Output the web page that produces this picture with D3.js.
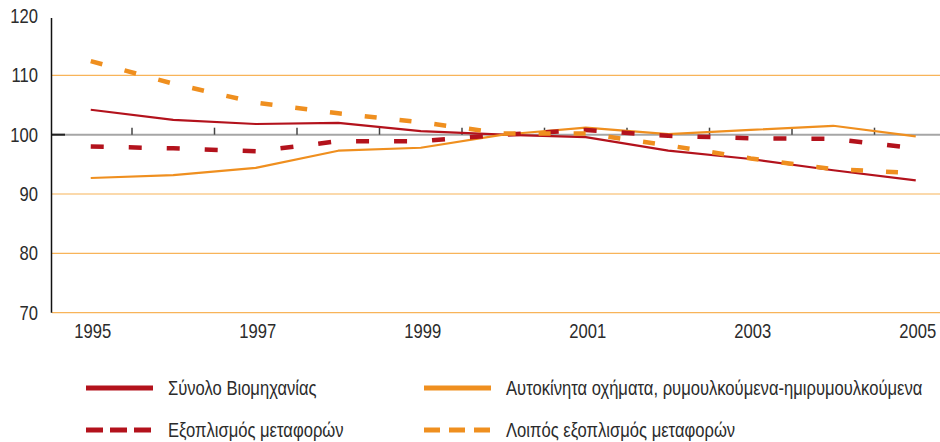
<!DOCTYPE html>
<html>
<head>
<meta charset="utf-8">
<script src="https://cdn.jsdelivr.net/npm/d3@7"></script>
<style>
  body { margin: 0; background: #fff; }
  svg text { font-family: "Liberation Sans", Arial, sans-serif; fill: #2b2b2b; }
</style>
</head>
<body>
<svg id="chart" width="940" height="442"></svg>
<script>
// values (index, 2000 = 100)
const years = [1995, 1996, 1997, 1998, 1999, 2000, 2001, 2002, 2003, 2004, 2005];
const totalIndustry = [104.2, 102.5, 101.8, 102.0, 100.6, 100.0, 99.6, 97.3, 95.9, 94.0, 92.3];
const motorVehicles = [92.7, 93.2, 94.4, 97.3, 97.8, 100.0, 101.2, 100.1, 100.8, 101.5, 99.7];
const transportEquip = [98.0, 97.7, 97.2, 98.9, 98.9, 100.0, 100.8, 99.8, 99.4, 99.3, 97.7];
const otherTransport = [112.4, 108.6, 105.4, 103.6, 102.1, 100.2, 100.2, 98.2, 96.0, 94.2, 93.5];
const yTicks = [70, 80, 90, 100, 110, 120];
const xLabels = [1995, 1997, 1999, 2001, 2003, 2005];

const seriesNames = [
  "Σύνολο Βιομηχανίας",
  "Αυτοκίνητα οχήματα, ρυμουλκούμενα-ημιρυμουλκούμενα",
  "Εξοπλισμός μεταφορών",
  "Λοιπός εξοπλισμός μεταφορών"
];

const darkRed = "#b3121c";
const orange = "#ef8f1f";
const squeeze = 0.83; // the reference uses a condensed face

const series = [
  {name: seriesNames[0], values: totalIndustry, color: darkRed, width: 2.2, dash: null, legendDash: null},
  {name: seriesNames[1], values: motorVehicles, color: orange, width: 2.2, dash: null, legendDash: null},
  {name: seriesNames[2], values: transportEquip, color: darkRed, width: 4.5, dash: "13,25", legendDash: "17,7"},
  {name: seriesNames[3], values: otherTransport, color: orange, width: 4.5, dash: "12,23", legendDash: "16,9"}
];

const svg = d3.select("#chart");

const x = d3.scaleBand().domain(years).range([49.5, 49.5 + 82.5 * years.length]);
const xc = d => x(d) + x.bandwidth() / 2;
const y = d3.scaleLinear().domain([70, 120]).range([312.7, 16]);

// gridlines
svg.append("g")
  .selectAll("line")
  .data(yTicks.filter(t => t !== 100 && t !== 120))
  .join("line")
  .attr("x1", 52).attr("x2", 940)
  .attr("y1", d => y(d)).attr("y2", d => y(d))
  .attr("stroke", "#f8b459").attr("stroke-width", 1.2);

// 100 baseline
svg.append("line")
  .attr("x1", 52).attr("x2", 940)
  .attr("y1", y(100)).attr("y2", y(100))
  .attr("stroke", "#a6a6a6").attr("stroke-width", 2);
svg.append("line")
  .attr("x1", 52).attr("x2", 65)
  .attr("y1", y(100)).attr("y2", y(100))
  .attr("stroke", "#222").attr("stroke-width", 2);

// small ticks between categories on the 100 line
svg.append("g")
  .selectAll("line")
  .data(years.slice(1))
  .join("line")
  .attr("x1", d => x(d)).attr("x2", d => x(d))
  .attr("y1", y(100) - 7).attr("y2", y(100))
  .attr("stroke", "#444").attr("stroke-width", 1.5);

// y axis line
svg.append("line")
  .attr("x1", 51.5).attr("x2", 51.5)
  .attr("y1", 18).attr("y2", y(70))
  .attr("stroke", "#111").attr("stroke-width", 1.5);

// y labels
svg.append("g")
  .selectAll("text")
  .data(yTicks)
  .join("text")
  .attr("transform", d => `translate(38,${y(d) + 7}) scale(${squeeze},1)`)
  .attr("text-anchor", "end")
  .attr("font-size", 20)
  .text(d => d);

// x labels
svg.append("g")
  .selectAll("text")
  .data(xLabels)
  .join("text")
  .attr("transform", d => `translate(${xc(d) + 2},338) scale(${squeeze},1)`)
  .attr("text-anchor", "middle")
  .attr("font-size", 20)
  .text(d => d);

// lines
const line = d3.line()
  .x((d, i) => xc(years[i]))
  .y(d => y(d));

svg.append("g")
  .selectAll("path")
  .data(series)
  .join("path")
  .attr("d", d => line(d.values))
  .attr("fill", "none")
  .attr("stroke", d => d.color)
  .attr("stroke-width", d => d.width)
  .attr("stroke-dasharray", d => d.dash)
  .attr("stroke-linejoin", "round");

// legend
const legendPos = [
  {x: 86, y: 388}, {x: 424, y: 388},
  {x: 86, y: 430}, {x: 424, y: 430}
];
const legend = svg.append("g")
  .selectAll("g")
  .data(series)
  .join("g")
  .attr("transform", (d, i) => `translate(${legendPos[i].x},${legendPos[i].y})`);

legend.append("line")
  .attr("x1", 0).attr("x2", 67)
  .attr("stroke", d => d.color)
  .attr("stroke-width", 5)
  .attr("stroke-dasharray", d => d.legendDash);

legend.append("text")
  .attr("transform", `translate(82,7) scale(${squeeze},1)`)
  .attr("font-size", 20)
  .text(d => d.name);
</script>
</body>
</html>
